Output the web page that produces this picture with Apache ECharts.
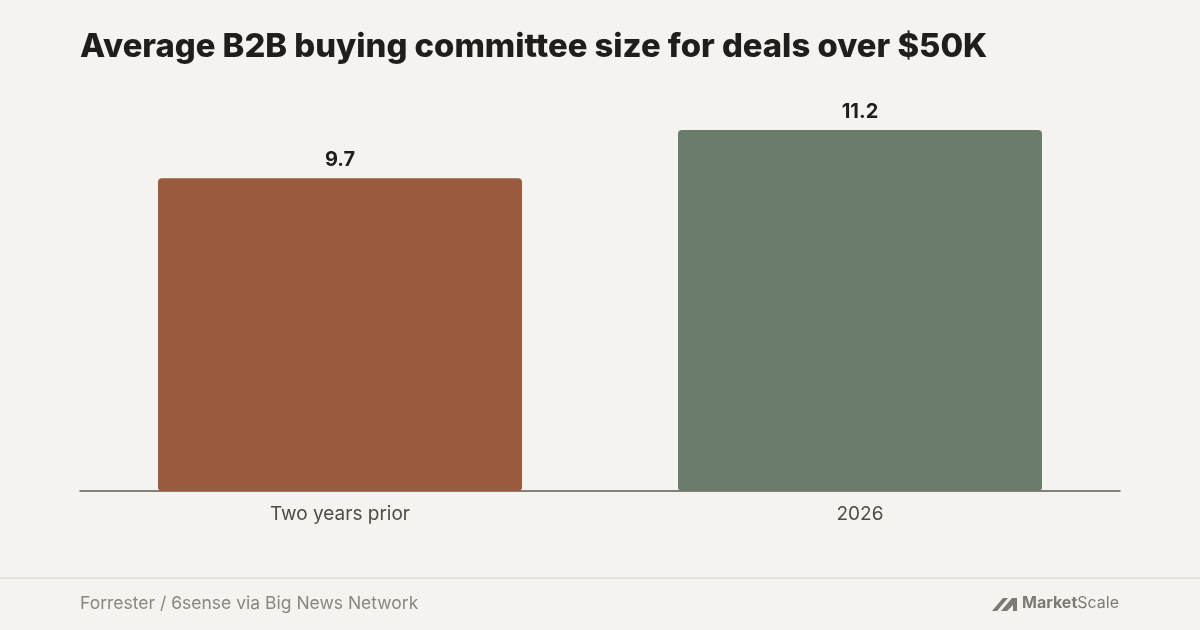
<!DOCTYPE html>
<html>
<head>
<meta charset="utf-8">
<style>
  html, body { margin: 0; padding: 0; background: #f4f3ef; }
  #chart { width: 1200px; height: 630px; }
</style>
<script src="https://cdn.jsdelivr.net/npm/echarts@6/dist/echarts.min.js"></script>
</head>
<body>
<div id="chart"></div>
<script>
// chart data
var categories = ['Two years prior', '2026'];
var committeeSize = [9.7, 11.2];
var barColors = ['#9a5a3d', '#6b7c6a'];

var chart = echarts.init(document.getElementById('chart'));

var option = {
    backgroundColor: '#f4f3ef',
    textStyle: { fontFamily: 'Inter' },
    title: {
        text: 'Average B2B buying committee size for deals over $50K',
        left: 80,
        top: 31,
        padding: 0,
        textStyle: {
            fontFamily: 'Inter',
            fontSize: 32.8,
            fontWeight: 800,
            color: '#1f1e1c'
        }
    },
    grid: {
        left: 80,
        right: 80,
        top: 130,
        bottom: 139
    },
    xAxis: {
        type: 'category',
        data: categories,
        axisTick: { show: false },
        axisLine: {
            lineStyle: { color: '#5f5b56', width: 1.5 }
        },
        axisLabel: {
            margin: 14,
            fontSize: 19,
            color: '#4f4b47'
        }
    },
    yAxis: {
        type: 'value',
        min: 0,
        max: 'dataMax',
        show: false,
        splitLine: { show: false }
    },
    series: [{
        type: 'bar',
        barWidth: '70%',
        data: committeeSize.map(function (v, i) {
            return { value: v, itemStyle: { color: barColors[i] } };
        }),
        itemStyle: { borderRadius: 4 },
        label: {
            show: true,
            position: 'top',
            distance: 8,
            fontSize: 20,
            fontWeight: 'bold',
            color: '#1f1e1c',
            formatter: function (p) { return p.value.toFixed(1); }
        }
    }],
    graphic: [
        {
            type: 'rect',
            shape: { x: 0, y: 577, width: 1200, height: 2 },
            style: { fill: '#e6e3de' }
        },
        {
            type: 'text',
            left: 80,
            top: 595,
            style: {
                text: 'Forrester / 6sense via Big News Network',
                fontFamily: 'Inter',
                fontSize: 17.5,
                fill: '#8a8681'
            }
        },
        {
            type: 'polygon',
            shape: { points: [[992, 611], [1003, 598], [1008, 598], [997, 611]] },
            style: { fill: '#7d7a76' }
        },
        {
            type: 'polygon',
            shape: { points: [[1001, 611], [1012, 598], [1017, 598], [1017, 611], [1013, 611], [1013, 605], [1007, 611]] },
            style: { fill: '#7d7a76' }
        },
        {
            type: 'text',
            right: 81,
            top: 595,
            style: {
                text: '{b|Market}{r|Scale}',
                rich: {
                    b: { fontFamily: 'Inter', fontSize: 16, fontWeight: 'bold', fill: '#7d7a76' },
                    r: { fontFamily: 'Inter', fontSize: 16, fill: '#7d7a76' }
                }
            }
        }
    ]
};

chart.setOption(option);
window.addEventListener('resize', function () {
    chart.resize();
});
</script>
</body>
</html>
